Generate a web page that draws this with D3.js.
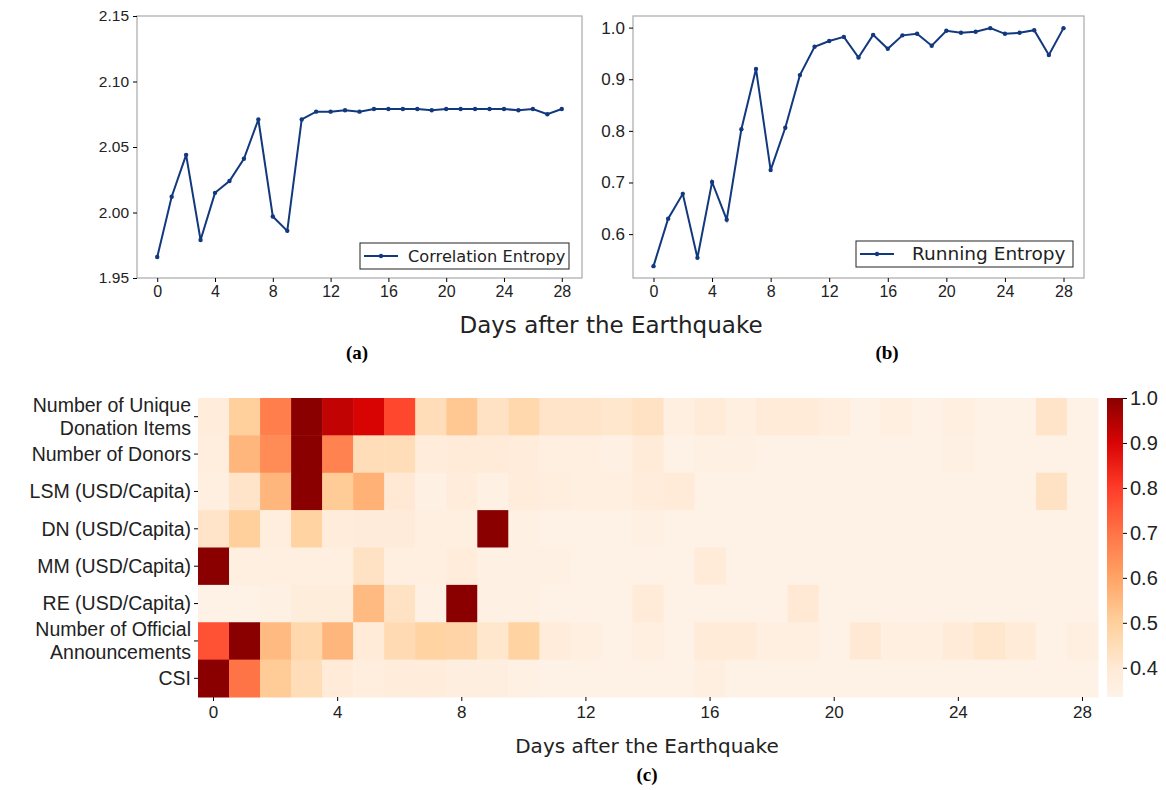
<!DOCTYPE html>
<html>
<head>
<meta charset="utf-8">
<script src="https://cdn.jsdelivr.net/npm/d3@7"></script>
<style>
  body { margin: 0; background: #fff; }
  svg { display: block; font-family: "DejaVu Sans", sans-serif; }
  .tick text { fill: #222; }
</style>
</head>
<body>
<svg id="chart" width="1166" height="790"></svg>
<script>
'use strict';

var days = d3.range(0, 29);

var correlationEntropy = [1.966, 2.012, 2.044, 1.979, 2.015, 2.024, 2.041, 2.071, 1.997, 1.986,
  2.071, 2.077, 2.077, 2.078, 2.077, 2.079, 2.079, 2.079, 2.079, 2.078,
  2.079, 2.079, 2.079, 2.079, 2.079, 2.078, 2.079, 2.075, 2.079];

var runningEntropy = [0.538, 0.630, 0.678, 0.554, 0.701, 0.628, 0.803, 0.920, 0.724, 0.806,
  0.908, 0.963, 0.974, 0.982, 0.942, 0.986, 0.959, 0.985, 0.988, 0.965,
  0.994, 0.990, 0.992, 0.999, 0.988, 0.990, 0.995, 0.947, 0.999];

var rowLabels = [
  ['Number of Unique', 'Donation Items'],
  ['Number of Donors'],
  ['LSM (USD/Capita)'],
  ['DN (USD/Capita)'],
  ['MM (USD/Capita)'],
  ['RE (USD/Capita)'],
  ['Number of Official', 'Announcements'],
  ['CSI']
];

var uniqueItems = [0.38, 0.50, 0.68, 1.00, 0.93, 0.90, 0.78, 0.45, 0.52, 0.43, 0.47, 0.42, 0.42, 0.41, 0.43,
  0.36, 0.39, 0.36, 0.39, 0.39, 0.37, 0.345, 0.36, 0.345, 0.36, 0.345, 0.345, 0.42, 0.345];
var donors = [0.37, 0.56, 0.65, 1.00, 0.67, 0.45, 0.45, 0.38, 0.39, 0.39, 0.38, 0.36, 0.36, 0.35, 0.39,
  0.345, 0.355, 0.355, 0.345, 0.345, 0.345, 0.345, 0.345, 0.345, 0.355, 0.345, 0.345, 0.345, 0.345];
var lsm = [0.36, 0.42, 0.56, 1.00, 0.51, 0.57, 0.40, 0.35, 0.38, 0.35, 0.38, 0.37, 0.36, 0.36, 0.38,
  0.39, 0.345, 0.345, 0.345, 0.345, 0.345, 0.345, 0.345, 0.345, 0.345, 0.345, 0.345, 0.43, 0.345];
var dn = [0.42, 0.50, 0.37, 0.49, 0.38, 0.385, 0.385, 0.36, 0.36, 1.00, 0.35, 0.345, 0.345, 0.345, 0.355,
  0.345, 0.345, 0.345, 0.345, 0.345, 0.345, 0.345, 0.345, 0.345, 0.345, 0.345, 0.345, 0.345, 0.345];
var mm = [1.00, 0.36, 0.36, 0.36, 0.36, 0.43, 0.36, 0.36, 0.38, 0.35, 0.355, 0.355, 0.345, 0.345, 0.345,
  0.345, 0.39, 0.345, 0.345, 0.345, 0.345, 0.345, 0.345, 0.345, 0.345, 0.345, 0.345, 0.345, 0.345];
var re = [0.345, 0.345, 0.355, 0.375, 0.375, 0.55, 0.43, 0.35, 1.00, 0.35, 0.355, 0.345, 0.345, 0.345, 0.39,
  0.345, 0.345, 0.345, 0.345, 0.40, 0.345, 0.345, 0.345, 0.345, 0.345, 0.345, 0.345, 0.345, 0.345];
var announcements = [0.76, 1.00, 0.55, 0.47, 0.56, 0.39, 0.46, 0.49, 0.48, 0.41, 0.49, 0.38, 0.36, 0.345, 0.36,
  0.345, 0.39, 0.39, 0.36, 0.36, 0.345, 0.40, 0.36, 0.36, 0.39, 0.41, 0.39, 0.345, 0.36];
var csi = [1.00, 0.70, 0.51, 0.45, 0.39, 0.37, 0.38, 0.38, 0.365, 0.365, 0.355, 0.345, 0.345, 0.345, 0.345,
  0.345, 0.36, 0.345, 0.345, 0.345, 0.345, 0.345, 0.345, 0.345, 0.345, 0.345, 0.345, 0.345, 0.345];

var heatRows = [uniqueItems, donors, lsm, dn, mm, re, announcements, csi];

var dayTicks = [0, 4, 8, 12, 16, 20, 24, 28];
var cbarTicks = [0.4, 0.5, 0.6, 0.7, 0.8, 0.9, 1.0];

var svg = d3.select('#chart');
var lineColor = '#12387e';

// line panel helper
function linePanel(opts) {
  var x = d3.scaleLinear().domain([-1.4, 29.4]).range([opts.left, opts.right]);
  var y = d3.scaleLinear().domain(opts.yDomain).range([opts.bottom, opts.top]);
  var g = svg.append('g');

  g.append('rect')
    .attr('x', opts.left).attr('y', opts.top)
    .attr('width', opts.right - opts.left).attr('height', opts.bottom - opts.top)
    .attr('fill', 'none').attr('stroke', '#b0b0b0').attr('stroke-width', 1.3);

  g.append('g')
    .attr('transform', 'translate(0,' + opts.bottom + ')')
    .call(d3.axisBottom(x).tickValues(dayTicks).tickSize(4).tickPadding(4))
    .call(function (a) { a.select('.domain').remove(); })
    .selectAll('text').style('font-size', '16px');

  g.append('g')
    .attr('transform', 'translate(' + opts.left + ',0)')
    .call(d3.axisLeft(y).tickValues(opts.yTicks).tickFormat(d3.format(opts.fmt)).tickSize(4).tickPadding(4))
    .call(function (a) { a.select('.domain').remove(); })
    .selectAll('text').style('font-size', opts.yFont);

  var line = d3.line()
    .x(function (d, i) { return x(days[i]); })
    .y(function (d) { return y(d); });

  g.append('path')
    .datum(opts.data)
    .attr('d', line)
    .attr('fill', 'none')
    .attr('stroke', lineColor)
    .attr('stroke-width', 2);

  g.selectAll('circle.pt')
    .data(opts.data)
    .enter().append('circle')
    .attr('class', 'pt')
    .attr('cx', function (d, i) { return x(days[i]); })
    .attr('cy', function (d) { return y(d); })
    .attr('r', 2.2)
    .attr('fill', lineColor);

  // legend
  var lg = g.append('g').attr('transform', 'translate(' + opts.legend[0] + ',' + opts.legend[1] + ')');
  lg.append('rect')
    .attr('width', opts.legend[2]).attr('height', 26)
    .attr('fill', '#fff').attr('stroke', '#222').attr('stroke-width', 1);
  lg.append('line')
    .attr('x1', 4).attr('x2', 38).attr('y1', 13).attr('y2', 13)
    .attr('stroke', lineColor).attr('stroke-width', 2);
  lg.append('circle').attr('cx', 21).attr('cy', 13).attr('r', 2.2).attr('fill', lineColor);
  lg.append('text')
    .attr('x', opts.legendText).attr('y', 19)
    .style('font-size', opts.legendFont).attr('fill', '#222')
    .text(opts.label);
}

linePanel({
  left: 137, right: 582, top: 16, bottom: 278,
  yDomain: [1.95, 2.15], yTicks: [1.95, 2.00, 2.05, 2.10, 2.15], fmt: '.2f', yFont: '15.5px',
  data: correlationEntropy, label: 'Correlation Entropy',
  legend: [360, 243, 209], legendText: 48, legendFont: '16.2px'
});

linePanel({
  left: 633, right: 1084, top: 16, bottom: 278,
  yDomain: [0.515, 1.0225], yTicks: [0.6, 0.7, 0.8, 0.9, 1.0], fmt: '.1f', yFont: '17px',
  data: runningEntropy, label: 'Running Entropy',
  legend: [856, 241, 217], legendText: 56, legendFont: '18.5px'
});

svg.append('text')
  .attr('x', 611).attr('y', 333)
  .attr('text-anchor', 'middle')
  .style('font-size', '23px').attr('fill', '#222')
  .text('Days after the Earthquake');

svg.append('text')
  .attr('x', 357).attr('y', 359).attr('text-anchor', 'middle')
  .style('font-family', '"Liberation Serif", serif').style('font-weight', 'bold').style('font-size', '19px')
  .text('(a)');
svg.append('text')
  .attr('x', 887).attr('y', 359).attr('text-anchor', 'middle')
  .style('font-family', '"Liberation Serif", serif').style('font-weight', 'bold').style('font-size', '19px')
  .text('(b)');

// heatmap
var hm = { left: 198, right: 1098, top: 398, bottom: 697 };
var xh = d3.scaleBand().domain(days).range([hm.left, hm.right]);
var yh = d3.scaleBand().domain(d3.range(rowLabels.length)).range([hm.top, hm.bottom]);

var color = d3.scaleLinear()
  .domain([0.335, 0.4, 0.5, 0.6, 0.7, 0.8, 0.9, 1.0])
  .range(['#fef3e8', '#ffe9d4', '#ffd09c', '#ffa466', '#ff7446', '#ff3c28', '#d80404', '#8a0000'])
  .interpolate(d3.interpolateRgb)
  .clamp(true);

var cells = [];
heatRows.forEach(function (row, r) {
  row.forEach(function (v, c) { cells.push({ r: r, c: c, v: v }); });
});

svg.append('g').selectAll('rect')
  .data(cells)
  .enter().append('rect')
  .attr('x', function (d) { return xh(d.c); })
  .attr('y', function (d) { return yh(d.r); })
  .attr('width', xh.bandwidth() + 0.5)
  .attr('height', yh.bandwidth() + 0.5)
  .attr('fill', function (d) { return color(d.v); });

var xAxisH = svg.append('g')
  .attr('transform', 'translate(0,' + hm.bottom + ')')
  .call(d3.axisBottom(xh).tickValues(dayTicks).tickSize(4).tickPadding(5));
xAxisH.select('.domain').remove();
xAxisH.selectAll('text').style('font-size', '17px');

var yAxisH = svg.append('g')
  .attr('transform', 'translate(' + hm.left + ',0)')
  .call(d3.axisLeft(yh).tickSize(4).tickPadding(5).tickFormat(''));
yAxisH.select('.domain').remove();
yAxisH.selectAll('.tick').each(function (d) {
  var lines = rowLabels[d];
  var t = d3.select(this).append('text')
    .attr('x', -7).attr('text-anchor', 'end')
    .attr('fill', '#222').style('font-size', '19.5px');
  lines.forEach(function (s, i) {
    t.append('tspan')
      .attr('x', -7)
      .attr('dy', i === 0 ? (lines.length === 1 ? '0.35em' : '-0.24em') : '1.18em')
      .text(s);
  });
});

svg.append('text')
  .attr('x', 647).attr('y', 753)
  .attr('text-anchor', 'middle')
  .style('font-size', '20px').attr('fill', '#222')
  .text('Days after the Earthquake');
svg.append('text')
  .attr('x', 647).attr('y', 781).attr('text-anchor', 'middle')
  .style('font-family', '"Liberation Serif", serif').style('font-weight', 'bold').style('font-size', '19px')
  .text('(c)');

// colorbar
var cb = { left: 1107, width: 16, top: 398, bottom: 697 };
var yc = d3.scaleLinear().domain([0.335, 1.0]).range([cb.bottom, cb.top]);
var grad = svg.append('defs').append('linearGradient')
  .attr('id', 'cbar').attr('x1', 0).attr('y1', 1).attr('x2', 0).attr('y2', 0);
d3.range(0, 1.0001, 0.02).forEach(function (t) {
  grad.append('stop')
    .attr('offset', t)
    .attr('stop-color', color(0.335 + t * (1.0 - 0.335)));
});
svg.append('rect')
  .attr('x', cb.left).attr('y', cb.top)
  .attr('width', cb.width).attr('height', cb.bottom - cb.top)
  .attr('fill', 'url(#cbar)');

var cAxis = svg.append('g')
  .attr('transform', 'translate(' + (cb.left + cb.width) + ',0)')
  .call(d3.axisRight(yc).tickValues(cbarTicks).tickFormat(d3.format('.1f')).tickSize(4).tickPadding(3));
cAxis.select('.domain').remove();
cAxis.selectAll('text').style('font-size', '20px');
</script>
</body>
</html>
